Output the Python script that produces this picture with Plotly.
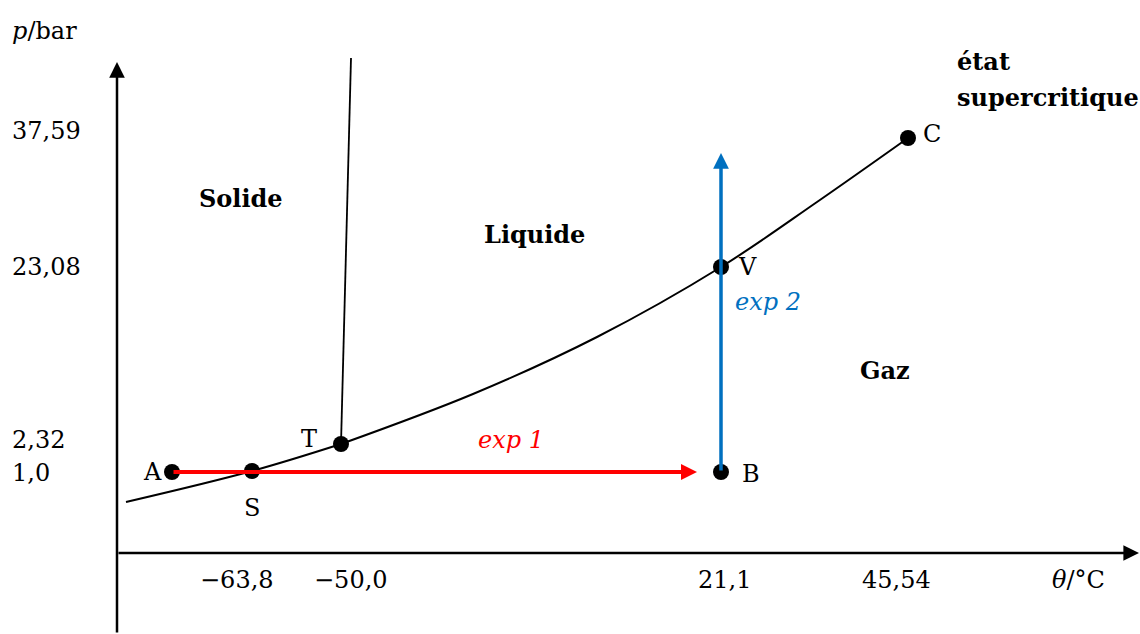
import plotly.graph_objects as go

# ---- schematic diagram coordinates (origin at the axes' intersection) ----
# named points of the diagram
point_names = ["A", "S", "T", "V", "B", "C"]
point_x = [55, 135, 224, 604, 604, 791]
point_y = [81, 82, 109, 286, 81, 415]

# solid/gas equilibrium curve (up to the triple point T)
subl_x = [9, 135, 224]
subl_y = [51, 82, 109]
# liquid/gas equilibrium curve (T -> C)
vap_x = [224, 356, 480, 604, 700, 791]
vap_y = [109, 159, 216, 286, 351, 415]
# solid/liquid equilibrium curve
fus_x = [224, 234]
fus_y = [109, 495]

# axis tick labels
theta_labels = ["\u221263,8", "\u221250,0", "21,1", "45,54"]
theta_pos = [135, 224, 604, 791]
p_labels = ["37,59", "23,08", "2,32", "1,0"]
p_pos = [422, 286, 113, 80]

# experiments (arrows)
exp1_x = [55, 580]
exp1_y = [81, 81]
exp2_x = [604, 604]
exp2_y = [81, 400]

# region labels
regions = ["Solide", "Liquide", "Gaz"]
regions_x = [124, 417, 768]
regions_y = [355, 319, 183]

FONT = "DejaVu Serif"
FS = 24
RED = "#FF0000"
BLUE = "#0070C0"

fig = go.Figure()
fig.add_trace(go.Scatter(x=subl_x, y=subl_y, mode="lines",
                         line=dict(color="black", width=2, shape="spline", smoothing=1)))
fig.add_trace(go.Scatter(x=vap_x, y=vap_y, mode="lines",
                         line=dict(color="black", width=2, shape="spline", smoothing=1)))
fig.add_trace(go.Scatter(x=fus_x, y=fus_y, mode="lines", line=dict(color="black", width=1.8)))

ann = []
def arrow(x0, y0, x1, y1, color, width, size):
    ann.append(dict(x=x1, y=y1, ax=x0, ay=y0, xref="x", yref="y", axref="x", ayref="y",
                    showarrow=True, arrowhead=2, arrowsize=size, arrowwidth=width,
                    arrowcolor=color, text="", standoff=0, startstandoff=0))

# axes
arrow(0, 0, 1022, 0, "black", 2.5, 1.25)
arrow(0, -81, 0, 491, "black", 2.5, 1.25)
# experiments
arrow(exp1_x[0], exp1_y[0], exp1_x[1], exp1_y[1], RED, 4, 0.8)
arrow(exp2_x[0], exp2_y[0], exp2_x[1], exp2_y[1], BLUE, 3.5, 0.9)

fig.add_trace(go.Scatter(x=point_x, y=point_y, mode="markers",
                         marker=dict(color="black", size=16)))

def text(x, y, t, size=FS, color="black", xanchor="center", xshift=0, yshift=0):
    ann.append(dict(x=x, y=y, xref="x", yref="y", text=t, showarrow=False,
                    font=dict(family=FONT, size=size, color=color),
                    xanchor=xanchor, yanchor="middle", xshift=xshift, yshift=yshift))

# point labels
shifts = {"A": (-20, 0), "S": (0, -37), "T": (-32, 5), "V": (26, 0), "B": (30, -2), "C": (24, 4)}
for n, x, y in zip(point_names, point_x, point_y):
    dx, dy = shifts[n]
    text(x, y, n, xshift=dx, yshift=dy)

tick_shift = [-15, 10, 3, -12]
for t, x, dx in zip(theta_labels, theta_pos, tick_shift):
    text(x, -27, t, xshift=dx)
text(961, -27, "<i>\u03b8</i>/\u00b0C")
for t, y in zip(p_labels, p_pos):
    text(-107, y, t, xanchor="left")
text(-107, 522, "<i>p</i>/bar", xanchor="left")

for t, x, y in zip(regions, regions_x, regions_y):
    text(x, y, "<b>" + t + "</b>")
text(838, 492, "<b>état</b>", xanchor="left")
text(838, 456, "<b>supercritique</b>", xanchor="left")

text(394, 113, "<i>exp 1</i>", color=RED)
text(651, 251, "<i>exp 2</i>", color=BLUE)

fig.update_layout(
    width=1140, height=634,
    margin=dict(l=0, r=0, t=0, b=0),
    paper_bgcolor="white", plot_bgcolor="white",
    showlegend=False,
    xaxis=dict(range=[-117, 1023], visible=False, fixedrange=True),
    yaxis=dict(range=[-81, 553], visible=False, fixedrange=True),
    annotations=ann,
)
fig.write_html("out.html", config={"displayModeBar": False},
               post_script="document.body.style.margin='0';document.body.style.overflow='hidden';")
